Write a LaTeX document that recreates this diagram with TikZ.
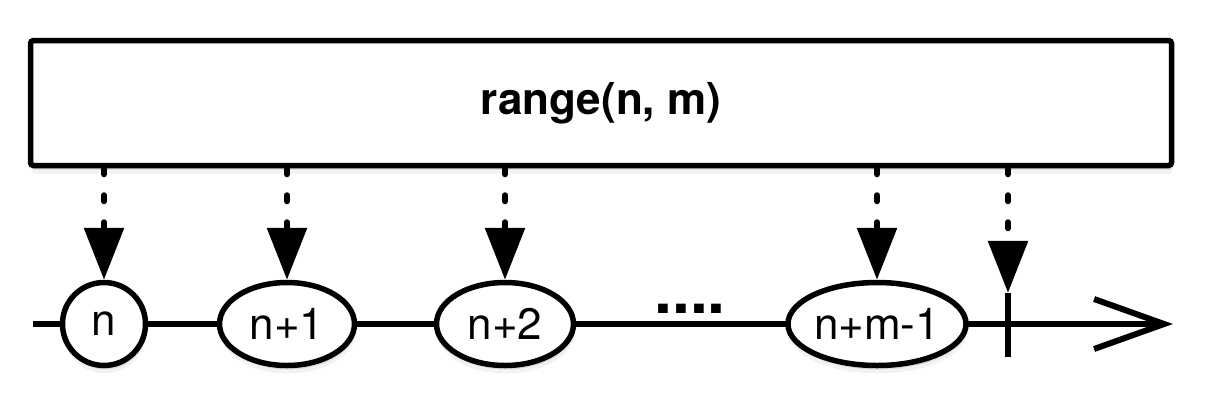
\documentclass[tikz,border=0pt]{standalone}
\usepackage{fontspec}
\setmainfont{TeX Gyre Heros}
\usetikzlibrary{arrows.meta,shapes,shadows,positioning}

\begin{document}
\begin{tikzpicture}[x=1pt,y=-1pt,
		thick line/.style={line width=5.5pt},
		soft shadow/.style={drop shadow={shadow xshift=1pt,shadow yshift=-4pt,opacity=0.2},
			drop shadow={shadow xshift=1pt,shadow yshift=-8pt,opacity=0.1}},
		elem/.style={ellipse,draw,thick line,fill=white,inner sep=0pt,minimum height=83pt,
			font=\fontsize{44}{48}\selectfont,soft shadow},
		feed/.style={line width=6pt,line cap=round,dash pattern=on 6pt off 21pt,
			-{Triangle[length=52pt,width=39pt]}}]
	\useasboundingbox (0,0) rectangle (1206,408);
	% the range box
	\node[draw,thick line,rounded corners=3pt,minimum width=1141pt,minimum height=125pt,
		fill=white,font=\bfseries\fontsize{44}{48}\selectfont,soft shadow] (range) at (601,103) {range(n, m)};
	% the number line
	\coordinate (start) at (33,324);
	\coordinate (stop) at (1173,324);
	\draw[line width=6pt,-{Straight Barb[length=70pt,width=50pt]}] (start) -- (stop);
	\node[elem,minimum width=83pt] (n0) at (104,324) {n};
	\node[elem,minimum width=135pt] (n1) at (287,324) {n+1};
	\node[elem,minimum width=137pt] (n2) at (505,324) {n+2};
	\node[elem,minimum width=168pt] (nm) at (877,324) {n+m-1};
	\node[anchor=base,inner sep=0pt,font=\bfseries\fontsize{64}{64}\selectfont] (dots) at (690,313) {....};
	\node[minimum height=64pt,inner sep=0pt] (cut) at (1008,325) {};
	\draw[thick line] (cut.north) -- (cut.south);
	% the values handed out
	\foreach \e in {n0,n1,n2,nm,cut}
		\draw[feed] (range.south -| \e) -- (\e.north);
\end{tikzpicture}
\end{document}
